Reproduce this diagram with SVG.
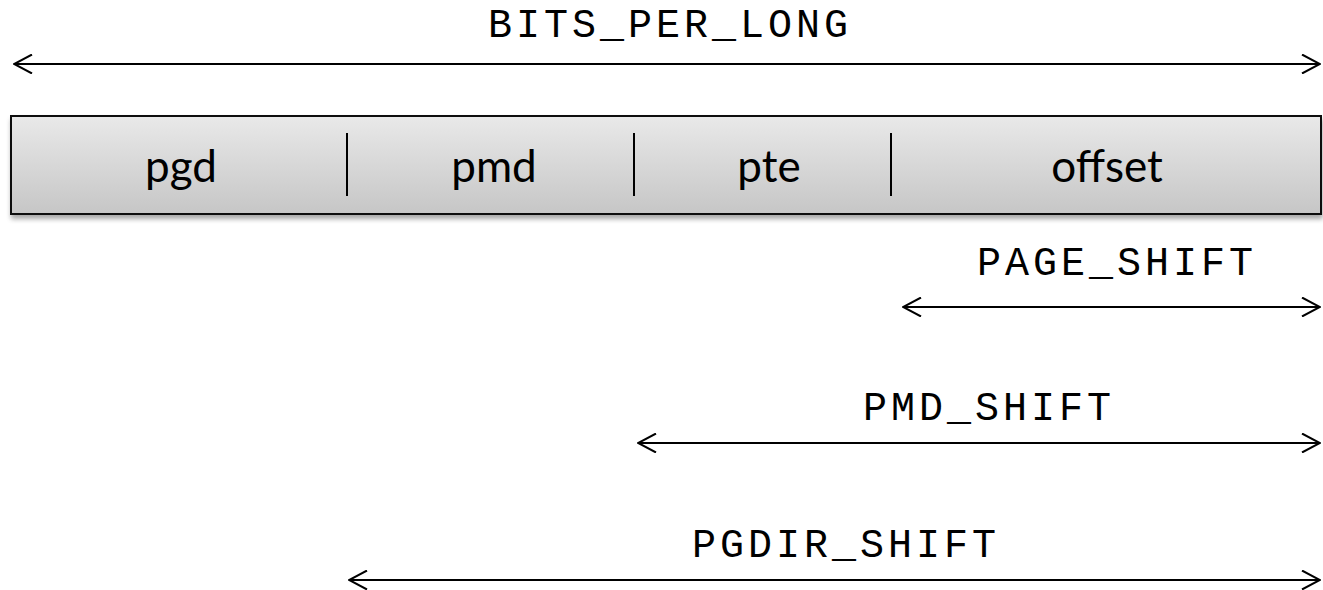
<svg xmlns="http://www.w3.org/2000/svg" width="1323" height="590" viewBox="0 0 1323 590">
  <style>
    .dim { stroke: #000; stroke-width: 2; fill: none; marker-start: url(#chev); marker-end: url(#chev); }
    .sep { stroke: #000; stroke-width: 2; }
    .mono { font-family: "Liberation Mono", "Courier New", monospace; font-size: 40px; letter-spacing: 4px; fill: #000; text-anchor: middle; }
    .field { font-family: Lato, "Open Sans", "Liberation Sans", sans-serif; font-size: 44px; fill: #000; text-anchor: middle; }
  </style>
  <defs>
    <!-- open chevron arrowhead, tip at the line end -->
    <marker id="chev" viewBox="0 0 20 20" refX="19" refY="10" markerWidth="20" markerHeight="20" markerUnits="userSpaceOnUse" orient="auto-start-reverse">
      <path d="M1 0.5 L19 10 L1 19.5" fill="none" stroke="#000" stroke-width="2"/>
    </marker>
    <linearGradient id="barFill" x1="0" y1="0" x2="0" y2="1">
      <stop offset="0" stop-color="#e9e9e9"/>
      <stop offset="1" stop-color="#c6c6c6"/>
    </linearGradient>
    <filter id="shadow" x="-5%" y="-20%" width="110%" height="160%">
      <feGaussianBlur in="SourceAlpha" stdDeviation="2.5"/>
      <feOffset dx="1" dy="4" result="b"/>
      <feComponentTransfer><feFuncA type="linear" slope="0.35"/></feComponentTransfer>
      <feMerge><feMergeNode/><feMergeNode in="SourceGraphic"/></feMerge>
    </filter>
  </defs>

  <!-- virtual address bar split into fields -->
  <g id="address-bar">
    <rect x="11" y="116" width="1310" height="98" fill="url(#barFill)" stroke="#111" stroke-width="2" filter="url(#shadow)"/>
    <line class="sep" x1="347" y1="133" x2="347" y2="196"/>
    <line class="sep" x1="634" y1="133" x2="634" y2="196"/>
    <line class="sep" x1="891" y1="133" x2="891" y2="196"/>
  </g>
  <g id="field-pgd"><text class="field" x="181" y="182">pgd</text></g>
  <g id="field-pmd"><text class="field" x="494" y="182">pmd</text></g>
  <g id="field-pte"><text class="field" x="769" y="182">pte</text></g>
  <g id="field-offset"><text class="field" x="1107" y="182">offset</text></g>

  <!-- width labels (x nudged by half the trailing letter-spacing) -->
  <g id="label-bits-per-long"><text class="mono" x="670" y="37">BITS_PER_LONG</text></g>
  <g id="label-page-shift"><text class="mono" x="1117" y="275">PAGE_SHIFT</text></g>
  <g id="label-pmd-shift"><text class="mono" x="989" y="420">PMD_SHIFT</text></g>
  <g id="label-pgdir-shift"><text class="mono" x="846" y="557">PGDIR_SHIFT</text></g>

  <!-- dimension arrows -->
  <g id="connectors">
    <line class="dim" x1="14" y1="64" x2="1320" y2="64"/>
    <line class="dim" x1="903" y1="307" x2="1320" y2="307"/>
    <line class="dim" x1="638" y1="443" x2="1320" y2="443"/>
    <line class="dim" x1="349" y1="580" x2="1320" y2="580"/>
  </g>
</svg>
